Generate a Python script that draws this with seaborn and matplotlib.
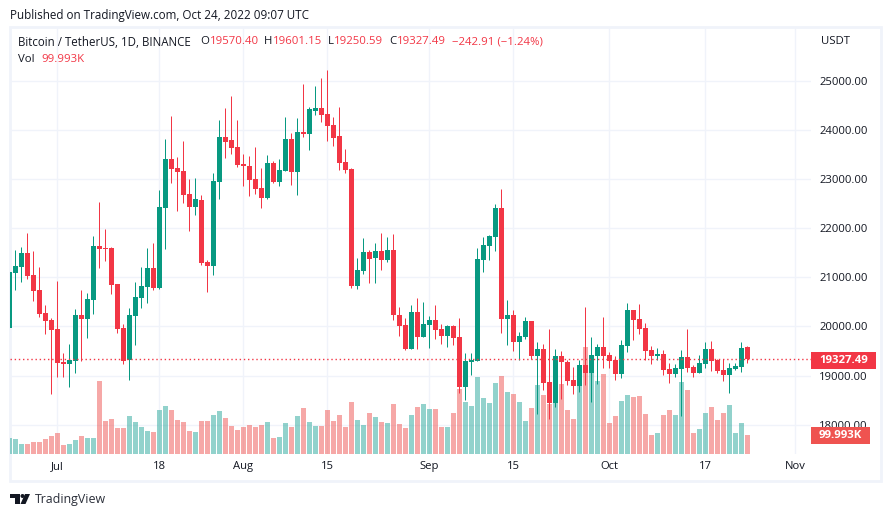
import pandas as pd
import matplotlib.pyplot as plt
from matplotlib.patches import Rectangle, Circle, Polygon
import seaborn as sns

# daily BTCUSDT candles, first one is cut off by the left edge of the chart
start_date = "2022-06-23"

opens = [19973, 21093, 21215, 21493, 21045, 20740, 20272, 20129,
         19944, 19281, 19241, 19302, 20231, 20157, 20543, 21635, 21595, 21595, 20862, 19967, 19322, 20218, 20584, 20808, 21188, 20781,
         22416, 23406, 23223, 23162, 22694, 22436, 22572, 21310,
         21235, 22945, 23854, 23793, 23650, 23304, 23264, 23000, 22816, 22619, 23325, 22945, 23169, 23813, 23148, 23956, 23922, 24390, 24444, 24322, 24098, 23874, 23345, 23203, 20828, 21133, 21513, 21398, 21534, 21357,
         21554, 20224, 20028, 19539, 20292, 19790,
         20034, 20129, 19946, 19804, 20007, 19783, 18773, 19275, 19302, 21351, 21635, 21819, 22409, 20150, 20231, 19682, 19783, 20109, 19397, 19539, 18868, 18447, 19397, 19275, 18908, 18786,
         19214, 19051, 19397, 19580,
         19417, 19315, 19030, 19600, 20333, 20150, 19967, 19519, 19397, 19438, 19132, 19030, 19132, 19377, 19173, 19051, 19234, 19539, 19315, 19112, 19010, 19132, 19173, 19570.40]
closes = [21106, 21228, 21493, 21032, 20726, 20258, 20116, 19933,
          19261, 19241, 19315, 20231, 20157, 20557, 21635, 21574, 21574, 20849, 19953, 19302, 20231, 20598, 20821, 21188, 20781, 22429,
          23406, 23209, 23148, 22680, 22436, 22592, 21296, 21235,
          22958, 23854, 23759, 23637, 23291, 23270, 22985, 22802, 22619, 23325, 22945, 23182, 23813, 23148, 23956, 23922, 24424, 24444, 24308, 24085, 23840, 23332, 23189, 20828, 21147, 21513, 21378, 21534, 21357, 21554,
          20224, 20014, 19539, 20292, 19790, 20048,
          20129, 19933, 19804, 20007, 19770, 18773, 19302, 19315, 21371, 21656, 21839, 22409, 20157, 20231, 19682, 19804, 20109, 19404, 19539, 18854, 18447, 19397, 19275, 18895, 18786, 19214,
          19051, 19417, 19580, 19397,
          19295, 19030, 19621, 20333, 20129, 19946, 19499, 19397, 19438, 19112, 19030, 19153, 19377, 19153, 19051, 19254, 19539, 19295, 19091, 19010, 19153, 19193, 19560, 19327.49]
highs = [21106, 21554, 21615, 21900, 21534, 21208, 20435, 20170,
         20923, 19458, 19641, 20353, 20740, 20679, 21839, 22531, 21981, 21615, 20862, 20048, 20374, 20903, 21208, 21595, 21697, 22775,
         23813, 24281, 23447, 23772, 23000, 23019, 22673, 21351,
         23121, 24200, 24444, 24688, 24200, 23508, 23467, 23650, 23223, 23488, 23365, 23406, 24261, 23935, 24241, 24933, 24464, 24892, 25055, 25217, 24261, 24464, 23610, 23223, 21391, 21798, 21554, 21697, 21900, 21819,
         21880, 20394, 20170, 20435, 20577, 20496,
         20211, 20435, 20048, 20028, 20028, 20170, 19458, 19458, 21595, 21819, 21859, 22490, 22796, 20537, 20333, 19885, 20190, 20109, 19682, 19641, 19946, 19539, 19499, 19315, 19173, 19315,
         20394, 19783, 19641, 20190,
         19478, 19397, 19722, 20475, 20333, 20455, 20068, 19600, 19560, 19519, 19254, 19234, 19519, 19946, 19214, 19417, 19682, 19702, 19336, 19336, 19254, 19254, 19682, 19601.15]
lows = [19973, 20740, 20903, 20971, 20523, 20197, 19851, 18630,
        18976, 18976, 18773, 19058, 19302, 19770, 20258, 21195, 21337, 20665, 19872, 19241, 18915, 19627, 20381, 20482, 20747, 20767,
        21581, 22924, 22355, 22517, 21948, 22273, 21256, 20706,
        21052, 22599, 23433, 23515, 23250, 22863, 22660, 22701, 22416, 22599, 22918, 22863, 23169, 22884, 22680, 23861, 23596, 24308, 24166, 23779, 23677, 23189, 23128, 20788, 20767, 21072, 20889, 20889, 21154, 21317,
        20123, 19811, 19519, 19539, 19539, 19790,
        19566, 19750, 19648, 19587, 19627, 18651, 18508, 19017, 19302, 21113, 21357, 21534, 19872, 19621, 19499, 19315, 19750, 19336, 18216, 18705, 18115, 18359, 18522, 18807, 18623, 18664,
        18807, 18461, 18827, 19153,
        19153, 18908, 18949, 19478, 19722, 19845, 19315, 19234, 19315, 19010, 18847, 18969, 18176, 19071, 18969, 19051, 19153, 19091, 19051, 18888, 18644, 19112, 19071, 19250.59]

# volume in thousands of BTC
volumes = [84, 79, 53, 53, 63, 63, 79, 95,
           110, 47, 53, 74, 95, 84, 84, 384, 174, 184, 137, 137, 200, 168, 142, 121, 116, 232,
           253, 232, 179, 168, 121, 116, 174, 174,
           205, 226, 189, 147, 126, 142, 153, 142, 153, 168, 84, 89, 163, 142, 200, 242, 168, 147, 147, 232, 174, 205, 142, 274, 179, 153, 216, 195, 168, 163,
           263, 158, 137, 205, 247, 263,
           237, 237, 142, 142, 216, 342, 274, 253, 405, 295, 268, 374, 410, 326, 316, 274, 174, 242, 363, 310, 263, 267, 368, 232, 184, 358,
           563, 426, 384, 421,
           163, 200, 279, 310, 300, 305, 211, 100, 110, 205, 232, 205, 379, 337, 110, 132, 216, 247, 179, 216, 258, 110, 163, 99.993]

# x axis ticks
tick_dates = ["2022-07-01", "2022-07-18", "2022-08-01", "2022-08-15", "2022-09-01",
              "2022-09-15", "2022-10-01", "2022-10-17", "2022-11-01"]
tick_labels = ["Jul", "18", "Aug", "15", "Sep", "15", "Oct", "17", "Nov"]
price_ticks = [18000, 19000, 20000, 21000, 22000, 23000, 24000, 25000]

W, H = 891, 517
GREEN = "#089981"
RED = "#f23645"
GRID = "#f0f3fa"
TEXT = "#131722"

sns.set_theme(style="white")
plt.rcParams['font.family'] = ['Open Sans', 'DejaVu Sans']

origin = pd.Timestamp("2022-07-01")
dates = pd.date_range(start_date, periods=len(closes))

df = pd.DataFrame({'day': (dates - origin).days,
                   'open': opens, 'high': highs, 'low': lows, 'close': closes,
                   'volume': volumes})
df['up'] = df['close'] >= df['open']
df['side'] = df['up'].map({True: 'up', False: 'down'})
df['color'] = df['up'].map({True: GREEN, False: RED})

XLIM = (-7.88, 125.62)
YLIM = (17403, 26072)

fig = plt.figure(figsize=(W / 100, H / 100), dpi=100, facecolor="white")


def px_box(x0, y0, x1, y1):
    return [x0 / W, 1 - y1 / H, (x1 - x0) / W, (y1 - y0) / H]


def label(x, y, s, **kw):
    kw.setdefault('color', TEXT)
    kw.setdefault('fontsize', 8.4)
    kw.setdefault('va', 'center')
    fig.text(x / W, 1 - y / H, s, **kw)


# -----------------------------
# Grid and tick labels (bottom layer)
# -----------------------------
ax_grid = fig.add_axes(px_box(10, 28, 811, 454), zorder=0)
ax_grid.set_xlim(*XLIM)
ax_grid.set_ylim(*YLIM)
tick_days = [(pd.Timestamp(d) - origin).days for d in tick_dates]
ax_grid.set_xticks(tick_days, tick_labels)
ax_grid.set_yticks(price_ticks, [f"{p:.2f}" for p in price_ticks])
ax_grid.yaxis.tick_right()
ax_grid.grid(True, color=GRID, linewidth=1)
ax_grid.tick_params(length=0, labelsize=8.1, labelcolor=TEXT)
ax_grid.tick_params(axis='x', pad=5)
ax_grid.tick_params(axis='y', pad=6)
for s in ax_grid.spines.values():
    s.set_visible(False)

# -----------------------------
# Volume pane (behind the candles)
# -----------------------------
ax_vol = fig.add_axes(px_box(10, 28, 811, 454), zorder=1)
ax_vol.patch.set_visible(False)
sns.barplot(data=df, x='day', y='volume', hue='side', dodge=False, native_scale=True,
            palette={'up': '#26a69a', 'down': '#ef5350'}, hue_order=['up', 'down'],
            width=0.83, saturation=1, alpha=0.5, linewidth=0, legend=False, ax=ax_vol)
ax_vol.set_xlim(*XLIM)
ax_vol.set_ylim(0, 2242)
ax_vol.set_xlabel("")
ax_vol.set_ylabel("")
ax_vol.set_yticks([])
ax_vol.set_xticks([])
for s in ax_vol.spines.values():
    s.set_visible(False)

# -----------------------------
# Candles
# -----------------------------
ax = fig.add_axes(px_box(10, 28, 811, 454), zorder=2)
ax.patch.set_visible(False)
ax.set_xlim(*XLIM)
ax.set_ylim(*YLIM)
ax.set_xticks([])
ax.set_yticks([])
for s in ax.spines.values():
    s.set_visible(False)

ax.vlines(df['day'], df['low'], df['high'], colors=df['color'], linewidth=0.72, zorder=3)
ax.bar(df['day'], (df['close'] - df['open']).abs(), bottom=df[['open', 'close']].min(axis=1),
       width=0.83, color=df['color'], linewidth=0, zorder=4)

last_close = closes[-1]
ax.axhline(last_close, color=RED, linewidth=1, linestyle=(0, (1, 2)), zorder=5)

# -----------------------------
# Frame, legend and last value tags
# -----------------------------
fig.add_artist(Rectangle((10 / W, 1 - 481 / H), 871 / W, 454 / H, transform=fig.transFigure,
                         fill=False, edgecolor=GRID, linewidth=2))

label(10, 15, "Published on TradingView.com, Oct 24, 2022 09:07 UTC")
label(18, 42, "Bitcoin / TetherUS, 1D, BINANCE", fontsize=8.3)
for x, s in [(200, "O"), (264, "H"), (328, "L"), (389, "C")]:
    label(x, 42, s, fontsize=8.2)
for x, s in [(210, "19570.40"), (273, "19601.15"), (334, "19250.59"), (397, "19327.49"),
             (452, "\u2212242.91 (\u22121.24%)")]:
    label(x, 42, s, color=RED, fontsize=8.2)
label(18, 59.5, "Vol", fontsize=8.2)
label(41, 59.5, f"{volumes[-1]:.3f}K", color=RED, fontsize=8.2)
label(821, 41, "USDT", fontsize=8.2)

fig.add_artist(Rectangle((811 / W, 1 - 369 / H), 65 / W, 17 / H, transform=fig.transFigure,
                         facecolor=RED, edgecolor="none"))
label(843.5, 360.5, f"{last_close:.2f}", color="white", ha='center', fontweight='bold', fontsize=8.2)
fig.add_artist(Rectangle((811 / W, 1 - 444 / H), 59 / W, 17 / H, transform=fig.transFigure,
                         facecolor="#ef5350", edgecolor="none"))
label(840.5, 435.5, f"{volumes[-1]:.3f}K", color="white", ha='center', fontweight='bold', fontsize=8.2)

# TradingView logo
ax_logo = fig.add_axes(px_box(0, 480, 120, 517), zorder=3)
ax_logo.set_xlim(0, 120)
ax_logo.set_ylim(37, 0)
ax_logo.axis('off')
ax_logo.add_patch(Polygon([(10, 14), (20, 14), (20, 24), (15, 24), (15, 18), (10, 18)], color="#131722", lw=0))
ax_logo.add_patch(Circle((22.5, 16), 2, color="#131722", lw=0))
ax_logo.add_patch(Polygon([(25, 14), (30, 14), (25.5, 24), (20.5, 24)], color="#131722", lw=0))
label(34.5, 499, "TradingView", fontsize=8.9, color="#2a2e39")

plt.savefig("out.png", dpi=100)
